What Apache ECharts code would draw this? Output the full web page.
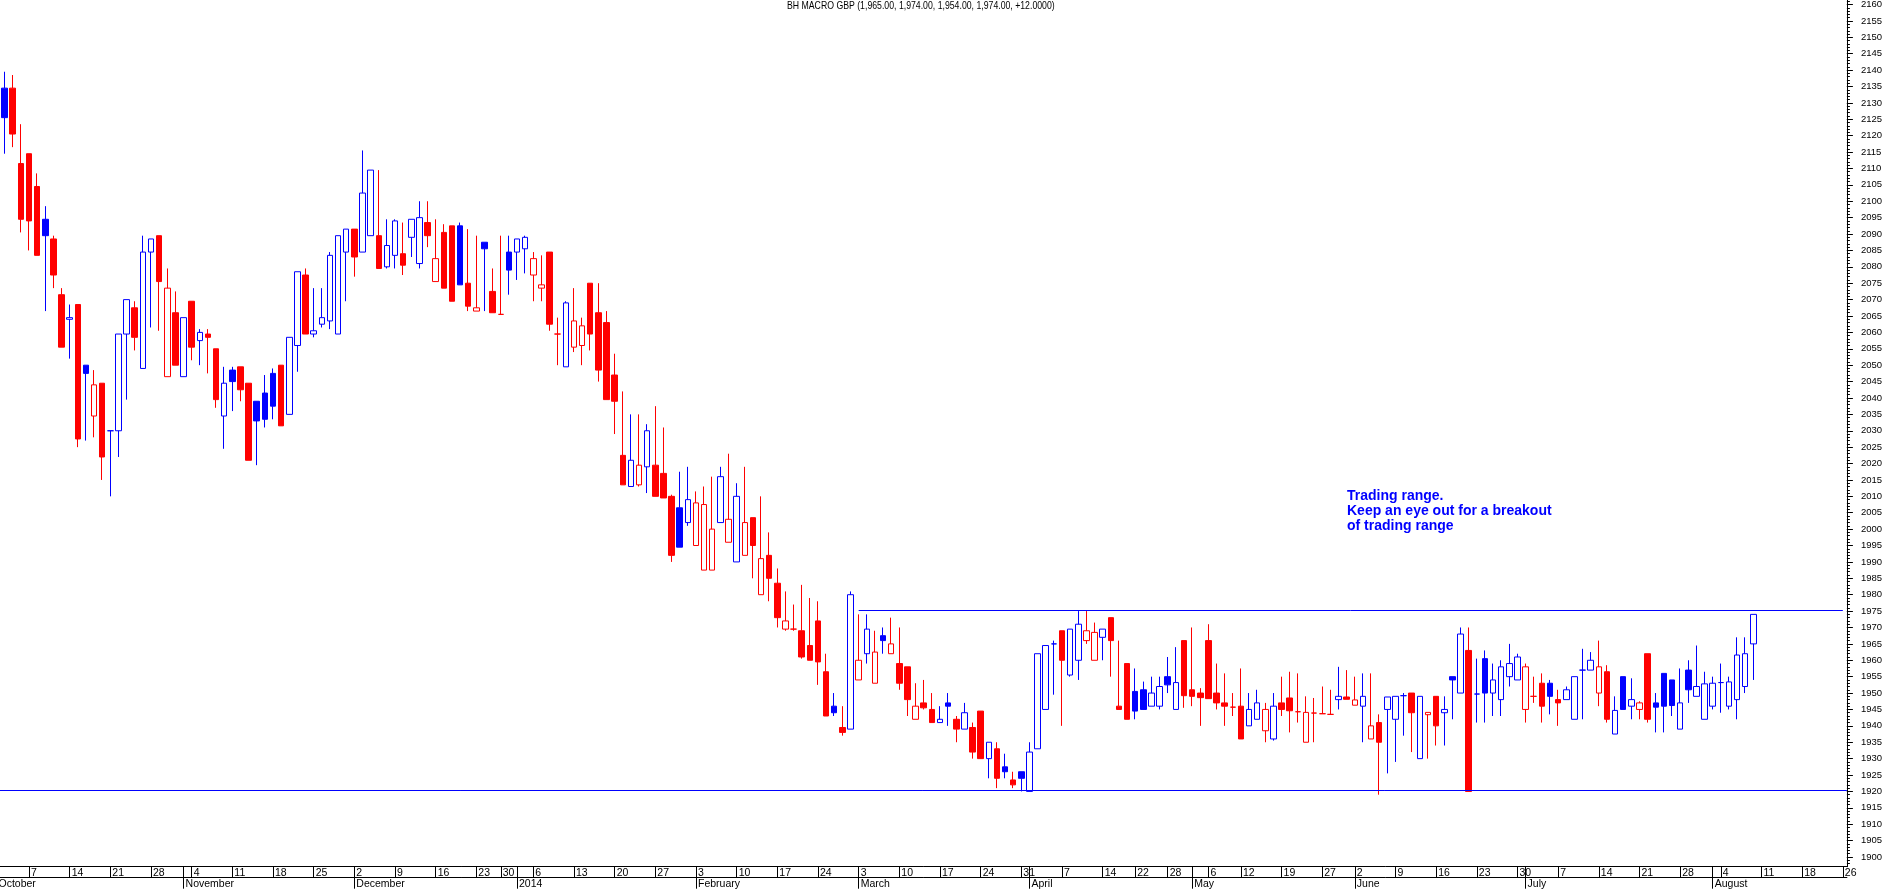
<!DOCTYPE html>
<html>
<head>
<meta charset="utf-8">
<script src="https://cdn.jsdelivr.net/npm/echarts@6/dist/echarts.min.js"></script>
<style>
html,body{margin:0;padding:0;background:#fff;}
#chart{width:1883px;height:889px;}
</style>
</head>
<body>
<div id="chart"></div>
<script>
// ---- Data ----
const firstCandleDate = '2013-10-02';
const axisStart = '2013-10-01';
const axisEnd = '2014-08-26';
const ukHolidays = ['2013-12-25','2013-12-26','2014-01-01','2014-04-18','2014-04-21','2014-05-05','2014-05-26','2014-08-25'];
const priorClose = 2118; // close of the session before the first visible candle (estimated)

const opens = [
2134.5,2134.5,2111.5,2114.5,2104.5,2094.5,2088.5,2071.5,2064,2068.5,
2050,2034.5,2044.5,2030,2030,2059.5,2067.5,2049,2084.5,2089.5,
2046.5,2066,2046.5,2069.5,2057.5,2059.5,2055,2034.5,2048.5,2049.5,
2044.5,2039,2041.5,2047.5,2050,2035,2056,2077.5,2059.5,2062.5,
2063.5,2059.5,2084.5,2091.5,2084.5,2089.5,2089.5,2080,2083.5,2084,
2089,2081,2093.5,2075.5,2090.5,2092.5,2092.5,2075,2066.5,2087.5,
2072.5,2065.5,2084.5,2084.5,2085.5,2077.5,2073.5,2084.5,2059.5,2049.5,
2055.5,2056,2075,2066,2063,2047,2022.5,2013,2013.5,2019,
2019.5,2017,2010,2006.5,2002,1995,1987.5,1987.5,2002,1996,
1990,1992,2003.5,1980,1992,1983.5,1969.5,1969.5,1969,1964.5,
1972,1956.5,1946,1939.5,1939,1954,1962,1953,1967.5,1962,
1959,1958,1942,1947,1945,1941,1947,1942,1939,1939.5,
1944.5,1930,1933,1927.5,1923.5,1926,1920,1933,1945,1965,
1969,1955.5,1960,1966,1960,1967,1973,1946,1959,1950.5,
1951,1946,1946,1955,1945,1966,1951,1950,1966,1950,
1947,1945.7,1946,1940,1942,1938.5,1936,1947,1948.5,1944.3,
1935,1943.9,1943.7,1943.5,1948,1948.8,1946.3,1946,1936,1941,
1945,1942,1949.2,1950,1930,1943.4,1949,1944,1955,1950,
1963,1949.7,1960.5,1950,1948,1955,1954,1945,1949,1953,
1953,1948,1948,1942,1957,1957,1950,1956.5,1937.5,1955,
1946,1945,1962,1947,1956,1954,1939,1957,1949,1942,
1946,1953.2,1946,1948,1952,1965
];
const closes = [
2125.5,2120.5,2094.5,2094,2083.5,2089.5,2077.5,2055.5,2064.5,2027.5,
2047.5,2044,2022,2030,2059.5,2070,2058.5,2084.5,2088.5,2075.5,
2073.5,2050,2064.5,2055.5,2060,2058.5,2039.5,2044.5,2045,2042.5,
2021,2033,2033.5,2037.5,2031.5,2058.5,2078.5,2059.5,2060.5,2064.5,
2083.5,2089.5,2091.5,2083,2102.5,2109.5,2079.5,2086.5,2094,2080.5,
2094.5,2095,2089.5,2082.5,2073.5,2069.5,2074.5,2068,2067.5,2085.5,
2066,2065.5,2079,2088.5,2089,2082.5,2074.5,2062.5,2059.5,2069,
2063.5,2062,2059.5,2048.5,2039.5,2039,2013.5,2021,2019.5,2030,
2010,2009.5,1992,1994.5,2009,2008,2007.5,2000,2016,2003,
2010,2002,1995,1991,1985,1973,1972,1969.5,1961,1960,
1959.5,1943,1944,1938,1980,1960,1969.5,1962.5,1966,1965,
1953,1948,1946,1945.5,1941,1942,1946,1939,1944,1932,
1930,1935,1924,1926,1922,1924,1932,1962,1964.5,1965,
1960,1969.5,1971,1969,1968.5,1969.5,1966,1945,1942,1944.5,
1945,1950,1952,1952.5,1953.2,1949.2,1949,1948.6,1948.3,1947,
1946,1945.7,1936,1945,1947,1945,1946,1945,1944.6,1944.3,
1944.1,1943.9,1943.7,1943.5,1949,1948.1,1947.9,1949,1940,1935,
1948.8,1949,1949.2,1944,1949,1944.1,1940,1945,1954,1968,
1920,1949.7,1950,1954,1958,1959,1961,1958,1949,1946,
1949,1947,1951,1955,1957,1960,1958,1942,1944.7,1945,
1948,1947,1942,1945.7,1946,1946.2,1947,1951,1952,1952.8,
1953,1953.2,1953.4,1961.6,1962,1974
];
const lows = [
2114.5,2116.5,2090.5,2085,2083.5,2066.5,2073.5,2055.5,2052,2025,
2027,2028,2015,2010,2022,2039.5,2054.5,2049,2061.5,2060.5,
2046.5,2050,2046.5,2051.5,2050,2047.5,2037,2024.5,2036,2039,
2021,2019.5,2031,2033.5,2031.5,2035,2048,2059.5,2058.5,2061.5,
2061,2059.5,2069.5,2077,2084.5,2089.5,2079.5,2079.5,2079.5,2077.5,
2083,2079.5,2086,2075.5,2073.5,2069.5,2074.5,2066.5,2066.5,2066.5,
2066,2065.5,2071.5,2076,2078,2069.5,2069.5,2060.5,2050,2049.5,
2054,2050,2054.5,2045,2039.5,2029,2013.5,2013,2013,2011,
2010,2009.5,1990,1994.5,2001,1995,1987.5,1987.5,2002,1996,
1990,1992,1985,1980,1978,1970,1969,1969,1960.5,1960,
1952.5,1943,1943,1937,1939,1954,1959,1953,1962,1962,
1951,1943,1942,1945,1941,1941,1940,1935,1939,1930,
1930,1924,1921,1924,1921,1920,1920,1933,1945,1949.5,
1940,1955,1954,1965,1960,1960,1955,1945,1942,1942,
1945,1946,1945,1950,1945,1945.5,1946,1940,1948.3,1945,
1940,1943,1936,1940,1942,1935,1935.5,1943,1938,1941,
1935,1935,1943.7,1943.5,1945,1948.1,1946.3,1935,1936,1919,
1925.5,1929,1937,1932,1930,1930,1934,1934,1942,1950,
1920,1941,1941,1943,1943,1952,1954,1941,1947,1941,
1943.5,1940,1948,1942,1942,1957,1946,1941,1937.5,1945,
1942,1942,1941,1938,1938,1943,1939,1947,1949,1942,
1945,1944,1945,1942,1950,1954
];
const highs = [
2139.5,2138.5,2123.5,2114.5,2108.5,2098.5,2089.5,2073.5,2068.5,2068.5,
2050,2048.5,2044.5,2030,2059.5,2070,2069.5,2089.5,2088.5,2089.5,
2079.5,2072.5,2064.5,2069.5,2061,2061,2055,2049.5,2049.5,2049.5,
2044.5,2039,2047,2049,2050,2058.5,2078.5,2079.5,2073.5,2073.5,
2084.5,2089.5,2091.5,2091.5,2115.5,2109.5,2109.5,2094.5,2094.5,2093.5,
2094.5,2100,2100,2094.5,2093,2092.5,2093.5,2091.5,2089.5,2087.5,
2079.5,2089.5,2089.5,2088.5,2089.5,2084.5,2083.5,2084.5,2064.5,2069.5,
2073.5,2064.5,2075,2075,2066.5,2053.5,2042,2035,2035,2032,
2037.5,2031,2010.5,2017.5,2019,2011.5,2013,2016,2019,2023,
2014,2019,2003.5,2010,1999,1988,1981,1977,1983,1979,
1978,1962,1950,1946,1981,1974,1974,1969,1970,1973,
1970,1958,1953,1954,1950,1946,1950,1943,1947,1941,
1944.5,1935,1935,1931.5,1926,1926,1935,1962,1964.5,1966,
1969,1969.5,1975,1975,1971.5,1969.5,1973,1966,1959,1957.5,
1953.5,1955,1955,1961,1964,1966,1970,1951.5,1971,1959,
1956,1950,1957.5,1950,1951,1947,1950,1955,1956.5,1956,
1949,1948.5,1952,1951,1958,1957,1955,1956,1956,1943.5,
1948.8,1949,1950,1950,1949,1944.1,1949,1949,1955,1970,
1970,1960.5,1963,1959,1960,1965,1962,1959,1955,1956,
1954,1951,1952,1955,1963.5,1962.5,1966,1958.5,1949,1955,
1954.5,1947.5,1962,1950,1956,1954,1957.5,1960,1964.5,1956.5,
1955,1959,1955,1967,1967,1974
];

const rangeHigh = 1975.3;
const rangeLow = 1920.4;
const rangeStartDate = '2014-03-03';
const monthNames = ['January','February','March','April','May','June','July','August','September','October','November','December'];
const titleText = 'BH MACRO GBP (1,965.00, 1,974.00, 1,954.00, 1,974.00, +12.0000)';
const noteText = 'Trading range.\nKeep an eye out for a breakout\nof trading range';

// ---- Build axis categories (UK trading days) ----
function ymd(d){return d.toISOString().slice(0,10);}
function tradingDays(a,b){
  const out=[]; const d=new Date(a+'T00:00:00Z'); const e=new Date(b+'T00:00:00Z');
  while(d<=e){const w=d.getUTCDay(); const s=ymd(d); if(w!==0&&w!==6&&ukHolidays.indexOf(s)<0) out.push(s); d.setUTCDate(d.getUTCDate()+1);}
  return out;
}
const cats = tradingDays(axisStart, axisEnd);
function weekKey(s){const d=new Date(s+'T00:00:00Z'); d.setUTCDate(d.getUTCDate()-((d.getUTCDay()+6)%7)); return ymd(d);}
function isWeekStart(i){return i>0 && weekKey(cats[i])!==weekKey(cats[i-1]);}
function isMonthStart(i){return i===0 || cats[i].slice(0,7)!==cats[i-1].slice(0,7);}

const UP='#0000ff', DOWN='#ff0000', HOLLOW='#ffffff';
const first = cats.indexOf(firstCandleDate);
const candleData = cats.map(function(d,k){
  const j=k-first;
  if(j<0||j>=opens.length) return '-';
  const o=opens[j], c=closes[j], l=lows[j], h=highs[j];
  const prev = j===0 ? priorClose : closes[j-1];
  const col = c>prev ? UP : DOWN;
  const fill = c>=o ? HOLLOW : col;
  return {value:[o,c,l,h], itemStyle:{color:fill,color0:fill,borderColor:col,borderColor0:col,borderColorDoji:col}};
});

const yMajor=[], yMinor=[];
for(let v=1900; v<=2160; v+=5) yMajor.push(v);
for(let v=1897; v<=2161; v+=1) yMinor.push(v);

const FONT='"Liberation Sans",Arial,sans-serif';
const yMin=1897.04, yMax=2161.38;

const chart = echarts.init(document.getElementById('chart'), null, {renderer:'canvas'});
chart.setOption({
  animation:false,
  backgroundColor:'#ffffff',
  grid:{left:-7.6,right:36.1,top:0,bottom:22.3,containLabel:false,outerBoundsMode:'none'},
  xAxis:[
    {type:'category',data:cats,boundaryGap:true,position:'bottom',
     axisLine:{show:true,lineStyle:{color:'#000',width:1}},
     axisTick:{show:true,alignWithLabel:true,length:11,interval:function(i){return isWeekStart(i)||isMonthStart(i);},lineStyle:{color:'#000',width:1}},
     axisLabel:{show:true,interval:function(i){return isWeekStart(i);},hideOverlap:false,
       formatter:function(v){return String(+v.slice(8));},align:'left',verticalAlign:'top',padding:[0,0,0,2],margin:1,
       fontFamily:FONT,fontSize:10.5,lineHeight:11,color:'#000'},
     splitLine:{show:false}},
    {type:'category',data:cats,boundaryGap:true,position:'bottom',offset:11,
     axisLine:{show:true,lineStyle:{color:'#000',width:1}},
     axisTick:{show:true,alignWithLabel:true,length:11,interval:function(i){return isMonthStart(i);},lineStyle:{color:'#000',width:1}},
     axisLabel:{show:true,interval:function(i){return isMonthStart(i);},hideOverlap:false,
       formatter:function(v){const m=+v.slice(5,7)-1; return m===0?v.slice(0,4):monthNames[m];},align:'left',verticalAlign:'top',padding:[0,0,0,2],margin:1,
       fontFamily:FONT,fontSize:10.5,lineHeight:11,color:'#000'},
     splitLine:{show:false}}
  ],
  yAxis:[
    {type:'value',position:'right',min:yMin,max:yMax,scale:true,
     axisLine:{show:true,lineStyle:{color:'#000',width:1}},
     axisTick:{show:true,customValues:yMajor,length:6,lineStyle:{color:'#000',width:1}},
     axisLabel:{show:true,customValues:yMajor,margin:14,formatter:function(v){return String(v);},fontFamily:FONT,fontSize:9.5,color:'#000'},
     splitLine:{show:false}},
    {type:'value',position:'right',min:yMin,max:yMax,scale:true,
     axisLine:{show:false},
     axisTick:{show:true,customValues:yMinor,length:3,lineStyle:{color:'#000',width:1}},
     axisLabel:{show:false},
     splitLine:{show:false}}
  ],
  graphic:[
    {type:'text',x:787,y:1,scaleX:0.83,silent:true,style:{text:titleText,fill:'#000',font:'10.5px "Liberation Sans",Arial,sans-serif'}},
    {type:'text',left:1347,top:489,silent:true,style:{text:noteText,fill:'#0000ff',font:'bold 14px "Liberation Sans",Arial,sans-serif',lineHeight:15}}
  ],
  series:[{
    type:'candlestick',xAxisIndex:0,yAxisIndex:0,barWidth:6,
    data:candleData,
    itemStyle:{borderWidth:1},
    emphasis:{disabled:true},
    markLine:{silent:true,symbol:['none','none'],label:{show:false},animation:false,
      lineStyle:{color:'#0000ff',width:1,type:'solid'},
      emphasis:{disabled:true},
      data:[
        {yAxis:rangeLow},
        [{coord:[rangeStartDate,rangeHigh]},{coord:[cats[cats.length-1],rangeHigh]}]
      ]}
  }]
});
</script>
</body>
</html>
